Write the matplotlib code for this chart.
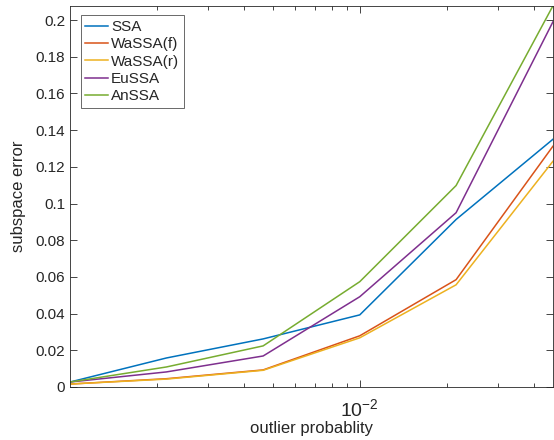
import matplotlib
matplotlib.use("Agg")
import matplotlib.pyplot as plt
from matplotlib.ticker import LogLocator, NullFormatter, FormatStrFormatter, LogFormatterSciNotation

plt.rcParams["font.family"] = ["Liberation Sans", "DejaVu Sans"]
plt.rcParams["mathtext.default"] = "regular"

# outlier probability (log spaced)
outlier_prob = [0.001, 0.00215, 0.00464, 0.01, 0.0215, 0.0464]

ssa = [0.0027, 0.0158, 0.0262, 0.0393, 0.0913, 0.1350]
wassa_f = [0.0016, 0.0045, 0.0093, 0.0279, 0.0585, 0.1312]
wassa_r = [0.0016, 0.0043, 0.0091, 0.0268, 0.0557, 0.1230]
eussa = [0.0027, 0.0082, 0.0169, 0.0492, 0.0950, 0.1990]
anssa = [0.0027, 0.0109, 0.0224, 0.0574, 0.1098, 0.2077]

series = [
    ("SSA", ssa, "#0072BD"),
    ("WaSSA(f)", wassa_f, "#D95319"),
    ("WaSSA(r)", wassa_r, "#EDB120"),
    ("EuSSA", eussa, "#7E2F8E"),
    ("AnSSA", anssa, "#77AC30"),
]

text_col = "#262626"

fig = plt.figure(figsize=(5.54, 4.4), dpi=100)
ax = fig.add_axes([0.1264, 0.1205, 0.8716, 0.866])

for name, vals, col in series:
    ax.plot(outlier_prob, vals, color=col, lw=1.1, label=name)

ax.set_xscale("log")
ax.set_xlim(outlier_prob[0], outlier_prob[-1])
ax.set_ylim(0, max(anssa))

ax.set_yticks([i * 0.02 for i in range(11)])
ax.yaxis.set_major_formatter(FormatStrFormatter("%g"))
ax.set_xticks([0.01])
ax.xaxis.set_major_formatter(LogFormatterSciNotation())
ax.xaxis.set_minor_locator(LogLocator(base=10, subs=range(2, 10)))
ax.xaxis.set_minor_formatter(NullFormatter())

ax.tick_params(which="both", direction="in", top=True, right=True,
               colors=text_col, labelsize=11, width=0.6)
ax.tick_params(which="major", length=5)
ax.tick_params(which="minor", length=3)
ax.tick_params(axis="x", which="major", pad=8, labelsize=14)
for sp in ax.spines.values():
    sp.set_color(text_col)
    sp.set_linewidth(0.6)

ax.set_xlabel("outlier probablity", fontsize=12, color=text_col, labelpad=1)
ax.set_ylabel("subspace error", fontsize=12, color=text_col, labelpad=7)

leg = ax.legend(loc="upper left", bbox_to_anchor=(0.022, 0.975), fontsize=11,
                frameon=True, fancybox=False, edgecolor=text_col,
                borderpad=0.3, labelspacing=0.22, handlelength=1.5,
                handletextpad=0.2, borderaxespad=0)
leg.get_frame().set_linewidth(0.6)
for t in leg.get_texts():
    t.set_color(text_col)

fig.savefig("out.png", dpi=100)
plt.close(fig)
